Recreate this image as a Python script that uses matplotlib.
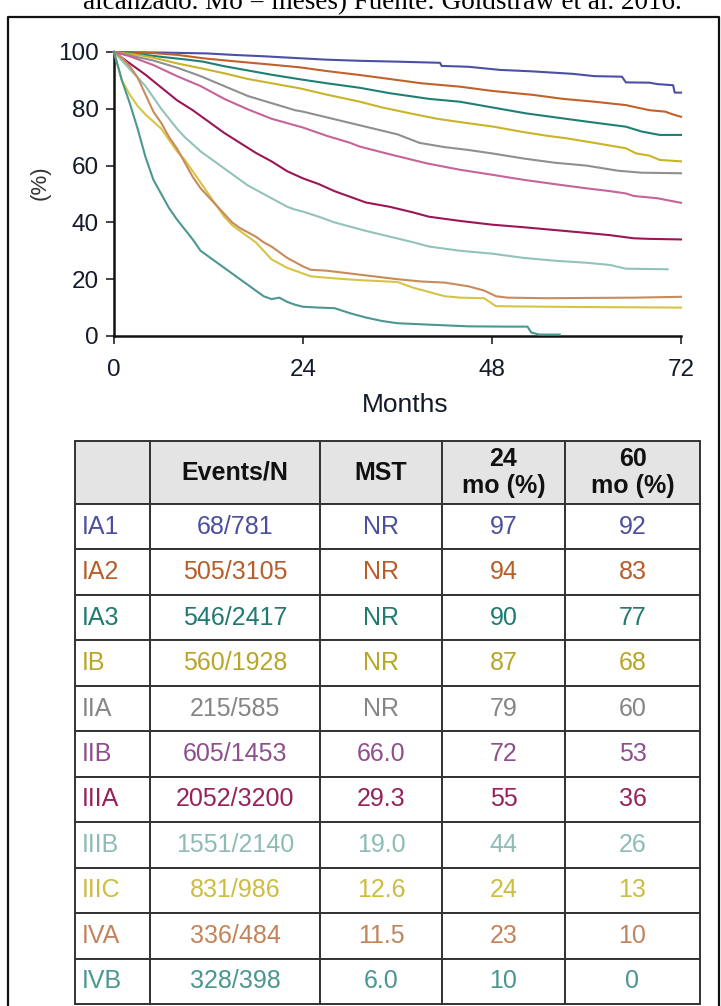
import matplotlib.pyplot as plt
from matplotlib.lines import Line2D

W, H = 721, 1006

# table data
stages = ["IA1", "IA2", "IA3", "IB", "IIA", "IIB", "IIIA", "IIIB", "IIIC", "IVA", "IVB"]
events_n = ["68/781", "505/3105", "546/2417", "560/1928", "215/585", "605/1453",
            "2052/3200", "1551/2140", "831/986", "336/484", "328/398"]
mst = ["NR", "NR", "NR", "NR", "NR", "66.0", "29.3", "19.0", "12.6", "11.5", "6.0"]
surv_24 = ["97", "94", "90", "87", "79", "72", "55", "44", "24", "23", "10"]
surv_60 = ["92", "83", "77", "68", "60", "53", "36", "26", "13", "10", "0"]
col_labels = ["", "Events/N", "MST", "24\nmo (%)", "60\nmo (%)"]

line_colors = ["#4b4fa6", "#c0622b", "#1f7f74", "#c9b427", "#8f8f8f", "#c6649a",
               "#9b1656", "#93c2bb", "#d6c545", "#c98a5c", "#4b9791"]
text_colors = ["#4b4f9e", "#b85d2a", "#1f7a70", "#b9a526", "#858585", "#8e4f8c",
               "#97215b", "#8dbcb5", "#cdbd3f", "#c3835a", "#4a9690"]

# survival curves (months, %)
ia1_m = [0, 6, 11.8, 15, 19, 23.6, 27, 31.2, 36, 41.4, 41.6, 45, 49, 53, 58.3, 61, 64.5, 65, 68, 69, 71, 71.2, 72]
ia1_s = [100, 99.8, 99.5, 99, 98.5, 97.8, 97.3, 96.9, 96.6, 96.2, 95.1, 94.8, 93.7, 93.2, 92.3, 91.5, 91.3, 89.3, 89.2, 88.7, 88.3, 85.7, 85.7]
ia2_m = [0, 5, 8, 11.3, 15, 19, 23.6, 27, 31.2, 35, 39, 43.9, 48, 53.2, 57, 61, 65, 68, 70, 71, 72]
ia2_s = [100, 99.6, 99, 97.8, 96.8, 95.8, 94.6, 93.3, 91.9, 90.5, 89, 87.8, 86.3, 84.9, 83.5, 82.5, 81.3, 79.5, 79, 78, 77.2]
ia3_m = [0, 3, 6, 9, 11.3, 14, 17, 20, 23.6, 27, 31.2, 35, 40, 43.9, 48, 52.3, 56, 60, 65, 67, 69.3, 72]
ia3_s = [100, 99.3, 98.3, 97.4, 96.6, 95, 93.5, 92, 90.4, 89, 87.4, 85.5, 83.5, 82.5, 80.5, 78.4, 77, 75.5, 73.7, 72, 70.8, 70.8]
ib_m = [0, 3, 5, 8, 11, 14, 17, 20, 23.6, 27, 31.2, 34, 37.6, 41, 44, 48.2, 52, 55, 57.5, 61, 65, 66.3, 68, 69.3, 72]
ib_s = [100, 99, 98, 96, 94.3, 92.5, 90.5, 89, 87.2, 85, 82.5, 80.5, 78.4, 76.5, 75.3, 73.7, 71.8, 70.5, 69.6, 68, 66.1, 64.3, 63.5, 62, 61.5]
iia_m = [0, 2, 5, 8, 11, 14, 17, 20, 23, 24, 27, 30, 33, 36, 38.8, 42, 45, 48, 52, 56, 60, 64, 67, 72]
iia_s = [100, 98.8, 97, 94.5, 91.5, 88, 84.5, 82, 79.5, 79, 77, 75, 73, 71, 68, 66.5, 65.5, 64.3, 62.5, 61, 60, 58.2, 57.5, 57.3]
iib_m = [0, 2, 5, 8, 11, 14, 17, 20, 24, 27, 30, 31.2, 35, 39.7, 44, 48.2, 52, 56.7, 60, 63, 65, 66, 69, 72]
iib_s = [100, 98.5, 95.4, 91.5, 88, 83.5, 79.8, 76.5, 73.4, 70.5, 68, 66.7, 64, 60.8, 58.5, 56.7, 55, 53.2, 52, 51, 50.2, 49.3, 48.5, 46.9]
iiia_m = [0, 2, 4, 6, 8, 10, 12, 14, 16, 18, 20, 22, 24, 26, 28, 30, 32, 35, 38, 40, 44, 48, 52, 56, 60, 63, 66, 68, 72]
iiia_s = [100, 96, 92, 87.5, 83, 79.5, 75.5, 71.5, 68, 64.5, 61.5, 58, 55.5, 53.5, 51, 49, 47, 45.5, 43.5, 42, 40.5, 39.2, 38.3, 37.3, 36.3, 35.5, 34.4, 34.2, 34]
iiib_m = [0, 1, 2, 3, 4, 5, 6, 7, 8, 9, 10, 11, 12, 13, 14, 15, 16, 17, 18, 19, 20, 21, 22, 23, 24, 26, 28, 30, 32, 35, 38, 40, 44, 48, 52, 56, 60, 63, 65, 70.3]
iiib_s = [100, 97, 94, 91, 88, 84, 80, 76.5, 73, 70, 67.5, 65, 63, 61, 59, 57, 55, 53, 51.5, 50, 48.5, 47, 45.5, 44.5, 43.8, 42, 40, 38.5, 37, 35, 33, 31.5, 30, 29, 27.5, 26.5, 25.8, 25, 23.7, 23.5]
iiic_m = [0, 1, 2, 3, 4, 5, 6, 7, 8, 9, 10, 11, 12, 13, 14, 15, 16, 17, 18, 19, 20, 21, 22, 23, 24, 25, 28, 31, 34, 36, 38, 40, 42, 44, 47, 48.5, 55, 60, 66, 72]
iiic_s = [100, 90, 85, 81, 78, 75.5, 73, 69, 65, 62, 58, 54, 50, 46, 42, 39, 37, 35, 33, 30, 27, 25.5, 24, 23, 22, 21, 20.3, 19.7, 19.3, 19, 17, 15.5, 14, 13.5, 13.3, 10.5, 10.3, 10.2, 10.1, 10]
iva_m = [0, 1, 2, 3, 4, 5, 6, 7, 8, 9, 10, 11, 12, 13, 14, 15, 16, 17, 18, 19, 20, 21, 22, 23, 24, 25, 27, 30, 33, 36, 39, 42, 45, 47, 48.5, 50, 55, 60, 66, 72]
iva_s = [100, 98, 95, 91, 85, 79, 75, 70, 66, 61, 56, 52, 49, 46, 43, 40, 38, 36.5, 35, 33, 31.5, 29.5, 27.5, 26, 24.5, 23.3, 23, 22, 21, 20, 19.2, 18.8, 17.5, 16, 14, 13.5, 13.3, 13.4, 13.5, 13.8]
ivb_m = [0, 1, 2, 3, 4, 5, 6, 7, 8, 9, 10, 11, 12, 13, 14, 15, 16, 17, 18, 19, 20, 21, 22, 23, 24, 26, 28, 30, 32, 34, 36, 40, 45, 50, 52.5, 53, 54, 56.6]
ivb_s = [100, 90, 82, 73, 63, 55, 50, 45, 41, 37.5, 34, 30, 28, 26, 24, 22, 20, 18, 16, 14, 13, 13.5, 12, 11, 10.3, 10, 9.8, 8, 6.5, 5.3, 4.5, 4, 3.4, 3.3, 3.3, 1.2, 0.5, 0.5]

curve_months = [ia1_m, ia2_m, ia3_m, ib_m, iia_m, iib_m, iiia_m, iiib_m, iiic_m, iva_m, ivb_m]
curve_surv = [ia1_s, ia2_s, ia3_s, ib_s, iia_s, iib_s, iiia_s, iiib_s, iiic_s, iva_s, ivb_s]

plt.rcParams['font.family'] = ['Liberation Sans', 'DejaVu Sans']

fig = plt.figure(figsize=(W / 100, H / 100), dpi=100)

# km plot
ax = fig.add_axes([114 / W, 1 - 336 / H, (681 - 114) / W, (336 - 52) / H])
for m, s, c in zip(curve_months, curve_surv, line_colors):
    ax.plot(m, s, color=c, lw=1.5, clip_on=False, zorder=3)

ax.set_xlim(0, 72)
ax.set_ylim(0, 100)
ax.set_xticks([0, 24, 48, 72])
ax.set_yticks([0, 20, 40, 60, 80, 100])
for side in ("top", "right"):
    ax.spines[side].set_visible(False)
for side in ("left", "bottom"):
    ax.spines[side].set_linewidth(1.8)
    ax.spines[side].set_color("#111111")
ax.tick_params(direction="out", length=5.8, width=1.1, color="#111111",
               labelsize=17.5, labelcolor="#141a2a")
ax.tick_params(axis="x", pad=11)
ax.tick_params(axis="y", pad=5)

fig.text(405 / W, 1 - 405 / H, "Months", ha="center", va="center", fontsize=19, color="#141a2a")
fig.text(40 / W, 1 - 183 / H, "(%)", ha="center", va="center", rotation=90, fontsize=16, color="#333333")

# table
tax = fig.add_axes([75 / W, 1 - 1004 / H, (700 - 75) / W, (1004 - 441) / H])
tax.axis("off")
rows = [[st, ev, ms, a, b] for st, ev, ms, a, b in zip(stages, events_n, mst, surv_24, surv_60)]
col_w = [75, 170, 122, 123, 135]
tbl = tax.table(cellText=rows, colLabels=col_labels, colWidths=[w / sum(col_w) for w in col_w],
                bbox=[0, 0, 1, 1], cellLoc="center")
tbl.auto_set_font_size(False)
for (r, c), cell in tbl.get_celld().items():
    cell.set_edgecolor("#333333")
    cell.set_linewidth(1.4)
    if r == 0:
        cell.set_height(63)
        cell.set_facecolor("#e4e4e4")
        cell.get_text().set_fontweight("bold")
        cell.get_text().set_fontsize(18)
        cell.get_text().set_color("#111111")
        cell.get_text().set_linespacing(1.15)
    else:
        cell.set_height(45.45)
        cell.set_facecolor("white")
        cell.get_text().set_fontsize(18)
        cell.get_text().set_color(text_colors[r - 1])
        if c == 0:
            cell.get_text().set_horizontalalignment("left")
            cell.PAD = 0.09

# page frame and cut caption
fig.add_artist(Line2D([8 / W, 8 / W, 719 / W, 719 / W], [0, 1 - 17 / H, 1 - 17 / H, 0],
                      color="#111111", lw=1.6, transform=fig.transFigure))
fig.text(382 / W, 1 - 9 / H, "alcanzado. Mo = meses) Fuente: Goldstraw et al. 2016.",
         ha="center", va="baseline", fontsize=19.5, family=["Liberation Serif", "DejaVu Serif"])

fig.savefig("out.png", dpi=100)
